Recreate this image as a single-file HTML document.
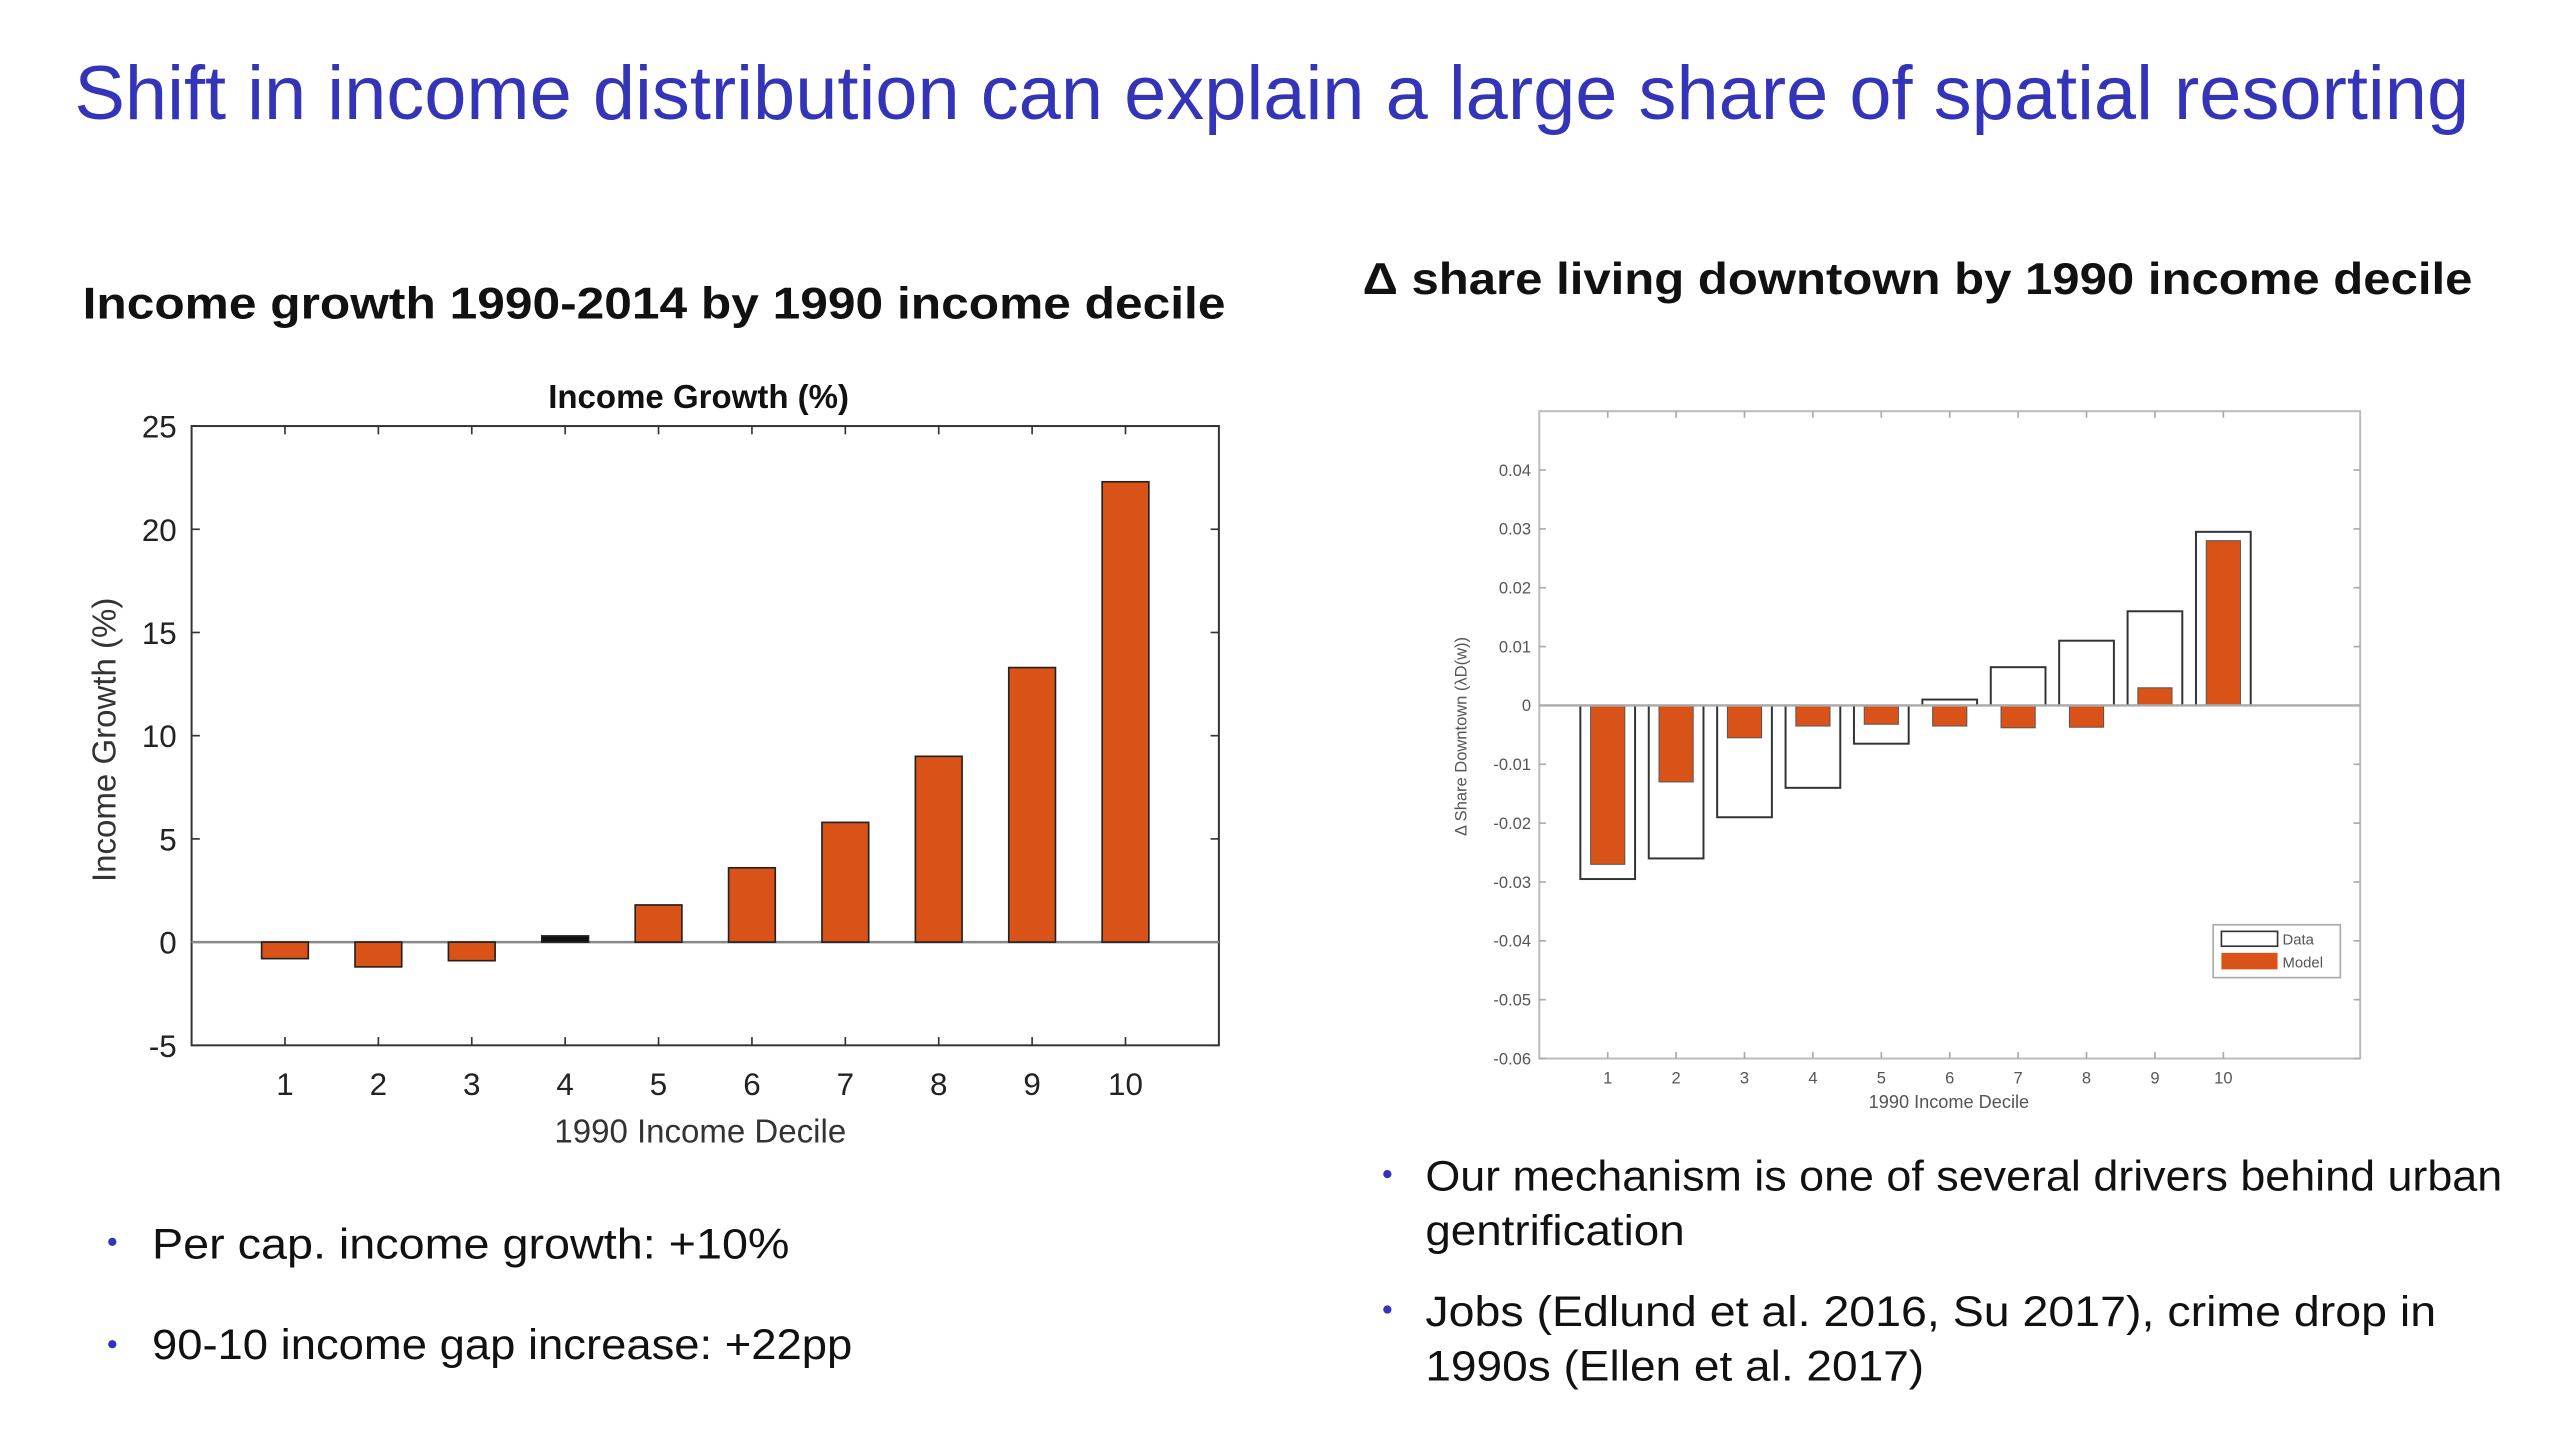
<!DOCTYPE html>
<html><head><meta charset="utf-8"><style>
html,body{margin:0;padding:0;background:#fff;}
svg{display:block;}
</style></head><body>
<svg id="s" width="2560" height="1440" viewBox="0 0 1550 872" preserveAspectRatio="none" xmlns="http://www.w3.org/2000/svg" font-family="Liberation Sans, sans-serif">
<text x="45" y="72" font-size="46" fill="#3434b8" textLength="1450" lengthAdjust="spacingAndGlyphs">Shift in income distribution can explain a large share  of spatial   resorting</text>
<text x="50" y="193" font-size="27" font-weight="bold" fill="#111" textLength="692" lengthAdjust="spacingAndGlyphs">Income  growth  1990-2014 by  1990 income decile</text>
<text x="825" y="178" font-size="27" font-weight="bold" fill="#111" textLength="672" lengthAdjust="spacingAndGlyphs">Δ  share  living  downtown  by  1990 income  decile</text>
<g id="left"></g>
<g id="right"></g>
<g font-size="26" fill="#111">
<circle cx="68" cy="752" r="2.5" fill="#3434b8"/>
<text x="92" y="762" textLength="386" lengthAdjust="spacingAndGlyphs">Per  cap.  income growth:  +10%</text>
<circle cx="68" cy="814" r="2.5" fill="#3434b8"/>
<text x="92" y="823" textLength="424" lengthAdjust="spacingAndGlyphs">90-10 income  gap  increase: +22pp</text>
</g>
<g font-size="26" fill="#111">
<circle cx="840" cy="711" r="2.5" fill="#3434b8"/>
<text x="863" y="721" textLength="652" lengthAdjust="spacingAndGlyphs">Our mechanism  is  one  of several  drivers behind urban</text>
<text x="863" y="754" textLength="157" lengthAdjust="spacingAndGlyphs">gentrification</text>
<circle cx="840" cy="793" r="2.5" fill="#3434b8"/>
<text x="863" y="803" textLength="612" lengthAdjust="spacingAndGlyphs">Jobs  (Edlund et al.  2016, Su  2017), crime drop  in</text>
<text x="863" y="836" textLength="302" lengthAdjust="spacingAndGlyphs">1990s  (Ellen et al.  2017)</text>
</g>
</svg>
<script>
const NS="http://www.w3.org/2000/svg";
// Left chart data
const deciles=[1,2,3,4,5,6,7,8,9,10];
const growth=[-0.8,-1.2,-0.9,0.3,1.8,3.6,5.8,9.0,13.3,22.3];
const leftYTicks=[-5,0,5,10,15,20,25];
// Right chart data
const dataShare=[-0.0295,-0.026,-0.019,-0.014,-0.0065,0.001,0.0065,0.011,0.016,0.0295];
const modelShare=[-0.027,-0.013,-0.0055,-0.0035,-0.0032,-0.0035,-0.0038,-0.0037,0.003,0.028];
const rightYTicks=[-0.06,-0.05,-0.04,-0.03,-0.02,-0.01,0,0.01,0.02,0.03,0.04];

function mk(parent,tag,attrs,text){const e=document.createElementNS(NS,tag);for(const k in attrs)e.setAttribute(k,attrs[k]);if(text!==undefined)e.textContent=text;parent.appendChild(e);return e;}

// LEFT
(function(){
const g=document.getElementById('left');
const L=116,R=738,T=258,B=633;
const x=v=>L+(v/11)*(R-L);
const y=v=>B-(v+5)/30*(B-T);
let e=mk(g,'rect',{x:L,y:T,width:R-L,height:B-T,fill:'#fff',stroke:'#333','stroke-width':1.2});

leftYTicks.forEach(v=>{
 mk(g,'line',{x1:L,x2:L+5,y1:y(v),y2:y(v),stroke:'#333'});
 mk(g,'line',{x1:R,x2:R-5,y1:y(v),y2:y(v),stroke:'#333'});
 e=mk(g,'text',{x:L-9,y:y(v)+7,'font-size':19,'text-anchor':'end',fill:'#222'},String(v));
 
});
deciles.forEach(d=>{
 mk(g,'line',{x1:x(d),x2:x(d),y1:B,y2:B-5,stroke:'#333'});
 mk(g,'line',{x1:x(d),x2:x(d),y1:T,y2:T+5,stroke:'#333'});
 e=mk(g,'text',{x:x(d),y:B+30,'font-size':19,'text-anchor':'middle',fill:'#222'},String(d));
 
});
mk(g,'line',{x1:L,x2:R,y1:y(0),y2:y(0),stroke:'#888','stroke-width':1.5});
growth.forEach((v,i)=>{
 const d=deciles[i],w=0.5/11*(R-L);
 const y0=Math.min(y(0),y(v)),h=Math.abs(y(v)-y(0));
 const r=mk(g,'rect',{x:x(d)-w/2,y:y0,width:w,height:Math.max(h,1),fill:i===3?'#111':'#d95319',stroke:'#222','stroke-width':1});
 
 
});
e=mk(g,'text',{x:423,y:247,'font-size':20,'font-weight':'bold','text-anchor':'middle',fill:'#111'},'Income Growth (%)');

e=mk(g,'text',{x:424,y:692,'font-size':20,'text-anchor':'middle',fill:'#333'},'1990 Income Decile');

e=mk(g,'text',{x:0,y:0,'font-size':20,'text-anchor':'middle',fill:'#333',transform:'translate(70,448) rotate(-90)'},'Income Growth (%)');

})();

// RIGHT
(function(){
const g=document.getElementById('right');
const L=932,R=1429,T=249,B=641;
const x=v=>L+(v/12)*(R-L);
const y=v=>B-(v+0.06)/0.11*(B-T);
let e=mk(g,'rect',{x:L,y:T,width:R-L,height:B-T,fill:'#fff',stroke:'#bbb','stroke-width':1.2});

rightYTicks.forEach(v=>{
 mk(g,'line',{x1:L,x2:L+4,y1:y(v),y2:y(v),stroke:'#aaa'});
 mk(g,'line',{x1:R,x2:R-4,y1:y(v),y2:y(v),stroke:'#aaa'});
 const lbl=v===0?'0':v.toFixed(2);
 e=mk(g,'text',{x:L-5,y:y(v)+3.5,'font-size':10,'text-anchor':'end',fill:'#555'},lbl);
 
});
deciles.forEach(d=>{
 mk(g,'line',{x1:x(d),x2:x(d),y1:B,y2:B-4,stroke:'#aaa'});
 mk(g,'line',{x1:x(d),x2:x(d),y1:T,y2:T+4,stroke:'#aaa'});
 e=mk(g,'text',{x:x(d),y:B+15,'font-size':10,'text-anchor':'middle',fill:'#555'},String(d));
 
});
const pw=(R-L)/12;
dataShare.forEach((v,i)=>{
 const d=deciles[i],w=0.8*pw;
 const r=mk(g,'rect',{x:x(d)-w/2,y:Math.min(y(0),y(v)),width:w,height:Math.abs(y(v)-y(0)),fill:'#fff',stroke:'#333','stroke-width':1.2});
 
 
});
modelShare.forEach((v,i)=>{
 const d=deciles[i],w=0.5*pw;
 const r=mk(g,'rect',{x:x(d)-w/2,y:Math.min(y(0),y(v)),width:w,height:Math.abs(y(v)-y(0)),fill:'#d95319',stroke:'#555','stroke-width':0.6});
 
 
});
mk(g,'line',{x1:L,x2:R,y1:y(0),y2:y(0),stroke:'#aaa','stroke-width':1.5});
// legend
const lg=mk(g,'g',{});

mk(lg,'rect',{x:1340,y:560,width:77,height:32,fill:'#fff',stroke:'#aaa'});
e=mk(lg,'rect',{x:1345,y:564,width:34,height:9,fill:'#fff',stroke:'#333'});

e=mk(lg,'text',{x:1382,y:572,'font-size':9,fill:'#555'},'Data');

e=mk(lg,'rect',{x:1345,y:577,width:34,height:10,fill:'#d95319'});

e=mk(lg,'text',{x:1382,y:586,'font-size':9,fill:'#555'},'Model');

e=mk(g,'text',{x:1180,y:671,'font-size':11,'text-anchor':'middle',fill:'#555'},'1990 Income Decile');

e=mk(g,'text',{x:0,y:0,'font-size':10,'text-anchor':'middle',fill:'#555',transform:'translate(888,446) rotate(-90)'},'Δ  Share Downtown (λD(w))');

})();
</script>
</body></html>
